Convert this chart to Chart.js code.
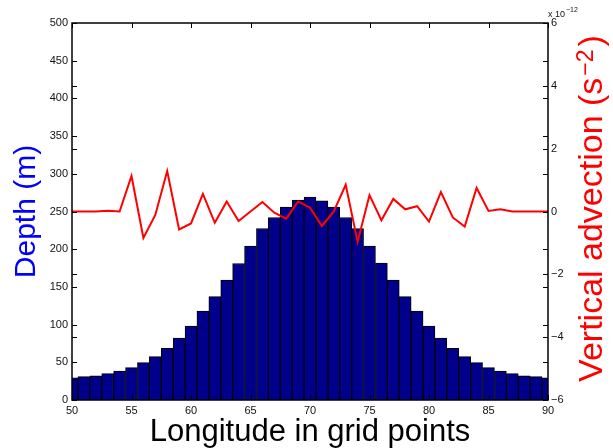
<!DOCTYPE html>
<html>
<head>
<meta charset="utf-8">
<script src="https://cdn.jsdelivr.net/npm/chart.js@4"></script>
<style>
  html, body { margin: 0; padding: 0; background: #fff; }
  #wrap { width: 613px; height: 448px; position: relative; }
</style>
</head>
<body>
<div id="wrap"><canvas id="chart"></canvas></div>
<script>
// grid point longitudes (categories)
const longitude = [50, 51, 52, 53, 54, 55, 56, 57, 58, 59, 60, 61, 62, 63, 64, 65, 66, 67, 68, 69, 70,
                   71, 72, 73, 74, 75, 76, 77, 78, 79, 80, 81, 82, 83, 84, 85, 86, 87, 88, 89, 90];
// depth in metres (bars, left axis)
const depth = [29.5, 31, 32, 35, 38.5, 43, 49.5, 57.5, 68.5, 82, 98, 118, 137, 159, 181, 204, 227.5, 242, 256, 265, 269,
               264, 256, 242, 227.5, 204, 181.5, 159, 137, 118, 98, 82, 68.5, 57.5, 49.5, 43, 38.5, 35, 32, 31, 29.5];
// vertical advection in units of 1e-12 s^-2 (line, right axis)
const advection = [0, 0, 0, 0.02, 0, 1.13, -0.84, -0.11, 1.29, -0.57, -0.38, 0.56, -0.36, 0.32, -0.30, 0, 0.30, -0.04, -0.23, 0.32, 0.12,
                   -0.46, 0, 0.85, -0.96, 0.52, -0.28, 0.40, 0.07, 0.17, -0.32, 0.62, -0.19, -0.48, 0.75, 0.02, 0.07, 0, 0, 0, 0];

const FONT = '"Liberation Sans", Arial, Helvetica, sans-serif';

// MATLAB style box with inward ticks on every side, exponent label and right axis title
const frame = {
    id: 'frame',
    afterDatasetsDraw(chart) {
        const {ctx, chartArea: a, scales: {x, y, y1}} = chart;
        const len = 5;
        ctx.save();
        ctx.strokeStyle = '#000';
        ctx.lineWidth = 1;
        ctx.beginPath();
        x.ticks.forEach(t => {
            const px = Math.round(x.getPixelForValue(t.value)) + 0.5;
            ctx.moveTo(px, a.bottom); ctx.lineTo(px, a.bottom - len);
            ctx.moveTo(px, a.top); ctx.lineTo(px, a.top + len);
        });
        [y, y1].forEach(s => s.ticks.forEach(t => {
            const py = Math.round(s.getPixelForValue(t.value)) + 0.5;
            ctx.moveTo(a.left, py); ctx.lineTo(a.left + len, py);
            ctx.moveTo(a.right, py); ctx.lineTo(a.right - len, py);
        }));
        ctx.stroke();
        ctx.lineWidth = 1.5;
        ctx.strokeRect(a.left, a.top, a.right - a.left, a.bottom - a.top);

        // x 10^-12 multiplier
        ctx.fillStyle = '#111';
        ctx.textAlign = 'left';
        ctx.textBaseline = 'alphabetic';
        ctx.font = '9px ' + FONT;
        ctx.fillText('x 10', a.right, a.top - 6);
        const w = ctx.measureText('x 10').width;
        ctx.font = '7px ' + FONT;
        ctx.fillText('\u221212', a.right + w + 1, a.top - 11);

        // right axis title, read bottom to top, with superscript
        const main = '34px ' + FONT, sup = '23px ' + FONT;
        ctx.font = main;
        const w1 = ctx.measureText('Vertical advection (s').width;
        const w3 = ctx.measureText(')').width;
        ctx.font = sup;
        const w2 = ctx.measureText('\u22122').width + 5;
        const total = w1 + w2 + w3;
        ctx.translate(a.right + 54, (a.top + a.bottom) / 2 - 3);
        ctx.rotate(-Math.PI / 2);
        ctx.fillStyle = '#ff0000';
        let cx = -total / 2;
        ctx.font = main;
        ctx.fillText('Vertical advection (s', cx, 0);
        cx += w1 + 2;
        ctx.font = sup;
        ctx.fillText('\u22122', cx, -9);
        cx += w2 - 2;
        ctx.font = main;
        ctx.fillText(')', cx, 0);
        ctx.restore();
    }
};

new Chart(document.getElementById('chart'), {
    type: 'bar',
    data: {
        datasets: [
            {
                type: 'line',
                label: 'Vertical advection',
                data: longitude.map((lon, i) => ({x: lon, y: advection[i]})),
                yAxisID: 'y1',
                borderColor: '#ff0000',
                borderWidth: 2,
                pointRadius: 0,
                tension: 0,
                fill: false,
                clip: 0,
                order: 0
            },
            {
                type: 'bar',
                label: 'Depth',
                data: longitude.map((lon, i) => ({x: lon, y: depth[i]})),
                yAxisID: 'y',
                backgroundColor: '#00008c',
                borderColor: '#000',
                borderWidth: 1,
                barPercentage: 1,
                categoryPercentage: 1,
                clip: 0,
                order: 1
            }
        ]
    },
    options: {
        responsive: true,
        maintainAspectRatio: false,
        animation: false,
        layout: { padding: { top: 23, left: 0, right: 0, bottom: 0 } },
        plugins: { legend: { display: false }, tooltip: { enabled: false } },
        scales: {
            x: {
                type: 'linear',
                min: 50,
                max: 90,
                offset: false,
                grid: { display: false, drawTicks: false, offset: false },
                border: { display: false },
                ticks: { stepSize: 5, padding: 4, color: '#111', font: { family: FONT, size: 11 } },
                title: {
                    display: true,
                    text: 'Longitude in grid points',
                    color: '#000',
                    font: { family: FONT, size: 31 },
                    padding: { top: 0, bottom: -3 }
                },
                afterFit: s => { s.height = 48; }
            },
            y: {
                position: 'left',
                min: 0,
                max: 500,
                grid: { display: false, drawTicks: false },
                border: { display: false },
                ticks: { stepSize: 50, padding: 4, color: '#111', font: { family: FONT, size: 11 } },
                title: {
                    display: true,
                    text: 'Depth (m)',
                    color: '#0000ff',
                    font: { family: FONT, size: 30 },
                    padding: { top: 9, bottom: 0 }
                },
                afterFit: s => { s.width = 72; }
            },
            y1: {
                position: 'right',
                min: -6,
                max: 6,
                grid: { display: false, drawTicks: false },
                border: { display: false },
                ticks: {
                    stepSize: 2,
                    padding: 3,
                    color: '#111',
                    font: { family: FONT, size: 11 },
                    callback: v => String(v).replace('-', '\u2212')
                },
                title: { display: false },
                afterFit: s => { s.width = 65; }
            }
        }
    },
    plugins: [frame]
});
</script>
</body>
</html>
